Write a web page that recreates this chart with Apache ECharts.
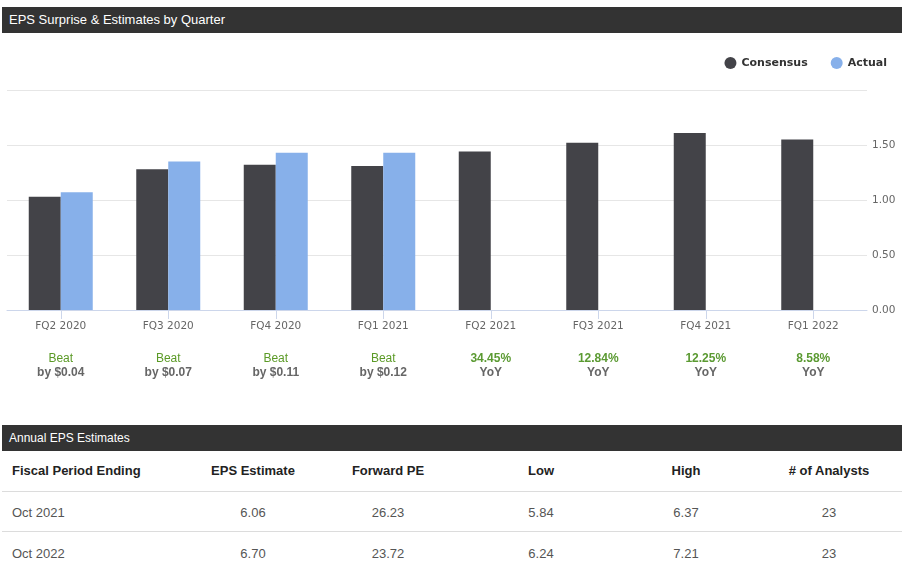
<!DOCTYPE html>
<html>
<head>
<meta charset="utf-8">
<script src="https://cdn.jsdelivr.net/npm/echarts@6/dist/echarts.min.js"></script>
<style>
  html, body { margin: 0; padding: 0; background: #fff; width: 905px; height: 582px; overflow: hidden; font-family: Arial, "Liberation Sans", sans-serif; }
  .bar { position: absolute; left: 2px; width: 900px; height: 26px; background: #333333; color: #fff; font-size: 13px; line-height: 26px; padding-left: 7px; box-sizing: border-box; z-index: 2; }
  #chart { position: absolute; left: 0; top: 0; width: 905px; height: 420px; }
  .cell { position: absolute; width: 140px; text-align: center; font-size: 13px; line-height: 16px; color: #555; white-space: nowrap; }
  .cell.head { font-weight: bold; color: #222; }
  .cell.first { text-align: left; }
  .sep { position: absolute; left: 2px; width: 900px; height: 1px; background: #dcdcdc; }
</style>
</head>
<body>
<div id="chart"></div>
<div class="bar" style="top:7px;">EPS Surprise &amp; Estimates by Quarter</div>
<div class="bar" style="top:425px; font-size:12px;">Annual EPS Estimates</div>
<div id="tbl"></div>
<script>
// ---- Data ----
const quarters = ['FQ2 2020', 'FQ3 2020', 'FQ4 2020', 'FQ1 2021', 'FQ2 2021', 'FQ3 2021', 'FQ4 2021', 'FQ1 2022'];
const consensus = [1.03, 1.28, 1.32, 1.31, 1.44, 1.52, 1.61, 1.55];
const actual = [1.07, 1.35, 1.43, 1.43, null, null, null, null];
const noteTop = ['Beat', 'Beat', 'Beat', 'Beat', '34.45%', '12.84%', '12.25%', '8.58%'];
const noteBottom = ['by $0.04', 'by $0.07', 'by $0.11', 'by $0.12', 'YoY', 'YoY', 'YoY', 'YoY'];
const yTicks = [0, 0.5, 1, 1.5, 2];

const tableHead = ['Fiscal Period Ending', 'EPS Estimate', 'Forward PE', 'Low', 'High', '# of Analysts'];
const tablePeriods = ['Oct 2021', 'Oct 2022'];
const tableEps = ['6.06', '6.70'];
const tablePE = ['26.23', '23.72'];
const tableLow = ['5.84', '6.24'];
const tableHigh = ['6.37', '7.21'];
const tableAnalysts = ['23', '23'];

// ---- Table (HTML) ----
const colCenters = [0, 253, 388, 541, 686, 829];
const rowY = [463, 505, 546];
const rows = [tableHead];
for (let r = 0; r < tablePeriods.length; r++) {
  rows.push([tablePeriods[r], tableEps[r], tablePE[r], tableLow[r], tableHigh[r], tableAnalysts[r]]);
}
let html = '';
rows.forEach((row, r) => {
  row.forEach((txt, c) => {
    const cls = 'cell' + (r === 0 ? ' head' : '') + (c === 0 ? ' first' : '');
    const left = c === 0 ? 12 : colCenters[c] - 70;
    html += '<div class="' + cls + '" style="top:' + rowY[r] + 'px;left:' + left + 'px">' + txt + '</div>';
  });
});
html += '<div class="sep" style="top:491px"></div><div class="sep" style="top:531px"></div>';
document.getElementById('tbl').innerHTML = html;

// ---- Chart ----
const chart = echarts.init(document.getElementById('chart'), null, { renderer: 'canvas' });
const axisFont = 'DejaVu Sans';
const gridPos = { left: 7, right: 38, top: 90, height: 220 };
chart.setOption({
  animation: false,
  backgroundColor: 'transparent',
  legend: {
    right: 13, top: 52,
    icon: 'circle', itemWidth: 12, itemHeight: 12, itemGap: 23,
    textStyle: { fontFamily: axisFont, fontWeight: 'bold', fontSize: 11, color: '#333' },
    data: ['Consensus', 'Actual']
  },
  grid: [
    Object.assign({}, gridPos),
    Object.assign({}, gridPos)
  ],
  xAxis: [
    {
      type: 'category', gridIndex: 0, data: quarters,
      axisLine: { lineStyle: { color: '#ccd6eb', width: 1 } },
      axisTick: { show: true, alignWithLabel: true, length: 9, lineStyle: { color: '#ccd6eb' } },
      axisLabel: { margin: 11, color: '#666', fontFamily: axisFont, fontSize: 10.5 },
      splitLine: { show: false }
    },
    {
      type: 'category', gridIndex: 1, data: quarters,
      axisLine: { show: false }, axisTick: { show: false },
      axisLabel: {
        margin: 42, interval: 0,
        formatter: function (v, i) {
          const topStyle = noteTop[i].indexOf('%') >= 0 ? 'pct' : 'beat';
          return '{' + topStyle + '|' + noteTop[i] + '}\n{bot|' + noteBottom[i] + '}';
        },
        rich: {
          beat: { color: '#5b9a26', fontFamily: 'Arial', fontSize: 12, lineHeight: 14 },
          pct: { color: '#5b9a32', fontFamily: 'Arial', fontWeight: 'bold', fontSize: 12, lineHeight: 14 },
          bot: { color: '#666', fontFamily: 'Arial', fontWeight: 'bold', fontSize: 12, lineHeight: 14 }
        }
      }
    }
  ],
  yAxis: [
    {
      type: 'value', gridIndex: 0, position: 'right',
      min: yTicks[0], max: yTicks[yTicks.length - 1], interval: 0.5,
      axisLine: { show: false }, axisTick: { show: false },
      axisLabel: {
        margin: 5, color: '#666', fontFamily: axisFont, fontSize: 10.5, showMaxLabel: false,
        formatter: v => v.toFixed(2)
      },
      splitLine: { lineStyle: { color: '#e6e6e6', width: 1 } }
    },
    { type: 'value', gridIndex: 1, show: false, min: 0, max: 2 }
  ],
  series: [
    {
      name: 'Consensus', type: 'bar', xAxisIndex: 0, yAxisIndex: 0,
      data: consensus, barWidth: 32, barGap: '0%',
      itemStyle: { color: '#434348' }
    },
    {
      name: 'Actual', type: 'bar', xAxisIndex: 0, yAxisIndex: 0,
      data: actual, barWidth: 32, barGap: '0%',
      itemStyle: { color: '#87b0ea' }
    }
  ]
});
</script>
</body>
</html>
